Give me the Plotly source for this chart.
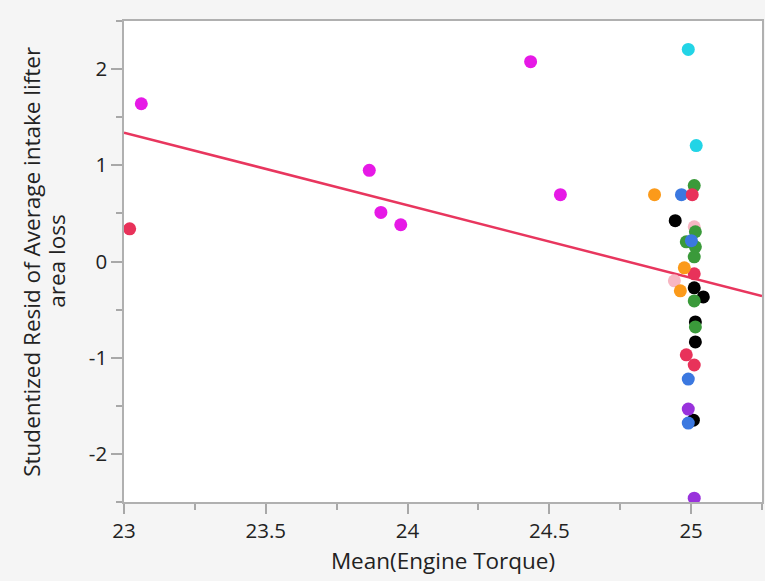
import plotly.graph_objects as go

# Mean engine torque vs. studentized residual, grouped by colour
groups = {
    "magenta": {
        "color": "#e619e6",
        "x": [23.061, 24.434, 23.865, 23.906, 23.976, 24.539],
        "y": [1.64, 2.077, 0.948, 0.51, 0.382, 0.695],
    },
    "pink": {
        "color": "#f7b6c2",
        "x": [25.011, 24.941],
        "y": [0.361, -0.201],
    },
    "black": {
        "color": "#000000",
        "x": [24.944, 25.011, 25.043, 25.015, 25.015, 25.008],
        "y": [0.424, -0.274, -0.368, -0.628, -0.836, -1.649],
    },
    "green": {
        "color": "#3a9a3a",
        "x": [25.011, 25.015, 24.983, 25.015, 25.011, 25.011, 25.015],
        "y": [0.789, 0.309, 0.205, 0.153, 0.049, -0.41, -0.68],
    },
    "blue": {
        "color": "#3b78e0",
        "x": [24.966, 25.001, 24.990, 24.990],
        "y": [0.695, 0.216, -1.222, -1.68],
    },
    "red": {
        "color": "#e8325a",
        "x": [23.020, 25.004, 25.011, 24.983, 25.011],
        "y": [0.34, 0.695, -0.128, -0.97, -1.076],
    },
    "orange": {
        "color": "#fb9a1a",
        "x": [24.871, 24.976, 24.962],
        "y": [0.695, -0.066, -0.305],
    },
    "cyan": {
        "color": "#22d4e6",
        "x": [24.990, 25.018],
        "y": [2.205, 1.205],
    },
    "purple": {
        "color": "#9932dc",
        "x": [24.990, 25.011],
        "y": [-1.534, -2.46],
    },
}

# Fitted line endpoints
fit_x = [23.0, 25.25]
fit_y = [1.34, -0.359]

x_title = "Mean(Engine Torque)"
y_title_lines = ["Studentized Resid of Average intake lifter", "area loss"]

fig = go.Figure()

fig.add_trace(go.Scatter(
    x=fit_x, y=fit_y, mode="lines",
    line=dict(color="#e8365e", width=2.5),
    hoverinfo="skip", showlegend=False,
))

draw_order = ["pink", "black", "green", "blue", "red", "orange", "cyan", "purple", "magenta"]
for name in draw_order:
    g = groups[name]
    fig.add_trace(go.Scatter(
        x=g["x"], y=g["y"], mode="markers", name=name,
        marker=dict(color=g["color"], size=13, line=dict(width=0)),
        showlegend=False,
    ))

family = "Open Sans, DejaVu Sans, sans-serif"
tick_font = dict(family=family, size=20.5, color="#222222")
title_font = dict(family=family, size=22.5, color="#222222")

# Two-line y-axis title, placed as rotated annotations left of the tick labels
plot_left, plot_width = 124, 640
for text, px in zip(y_title_lines, [31, 56]):
    fig.add_annotation(
        text=text, textangle=-90, showarrow=False,
        xref="paper", yref="paper",
        x=(px - plot_left) / plot_width, y=0.5,
        xanchor="center", yanchor="middle",
        font=title_font,
    )

fig.update_layout(
    width=765, height=581,
    margin=dict(l=124, r=1, t=21, b=79),
    paper_bgcolor="#f5f5f5",
    plot_bgcolor="#ffffff",
    showlegend=False,
    font=tick_font,
    xaxis=dict(
        range=[23, 25.25],
        tickvals=[23, 23.5, 24, 24.5, 25],
        ticktext=["23", "23.5", "24", "24.5", "25"],
        ticks="outside", ticklen=10, tickwidth=1.5, tickcolor="#a8a8a8",
        minor=dict(ticks="outside", ticklen=6, tickwidth=1.5, tickcolor="#a8a8a8", dtick=0.25, tick0=23),
        showline=True, linecolor="#b0b0b0", linewidth=1.5, mirror=True,
        showgrid=False, zeroline=False,
        tickfont=tick_font,
        title=dict(text=x_title, font=title_font, standoff=10),
    ),
    yaxis=dict(
        range=[-2.5, 2.5],
        tickvals=[-2, -1, 0, 1, 2],
        ticktext=["-2", "-1", "0", "1", "2"],
        ticks="outside", ticklen=11, tickwidth=1.5, tickcolor="#a8a8a8",
        minor=dict(ticks="outside", ticklen=6, tickwidth=1.5, tickcolor="#a8a8a8", dtick=0.5, tick0=-2.5),
        showline=True, linecolor="#b0b0b0", linewidth=1.5, mirror=True,
        showgrid=False, zeroline=False,
        tickfont=tick_font,
    ),
)

fig.write_html("out.html")
